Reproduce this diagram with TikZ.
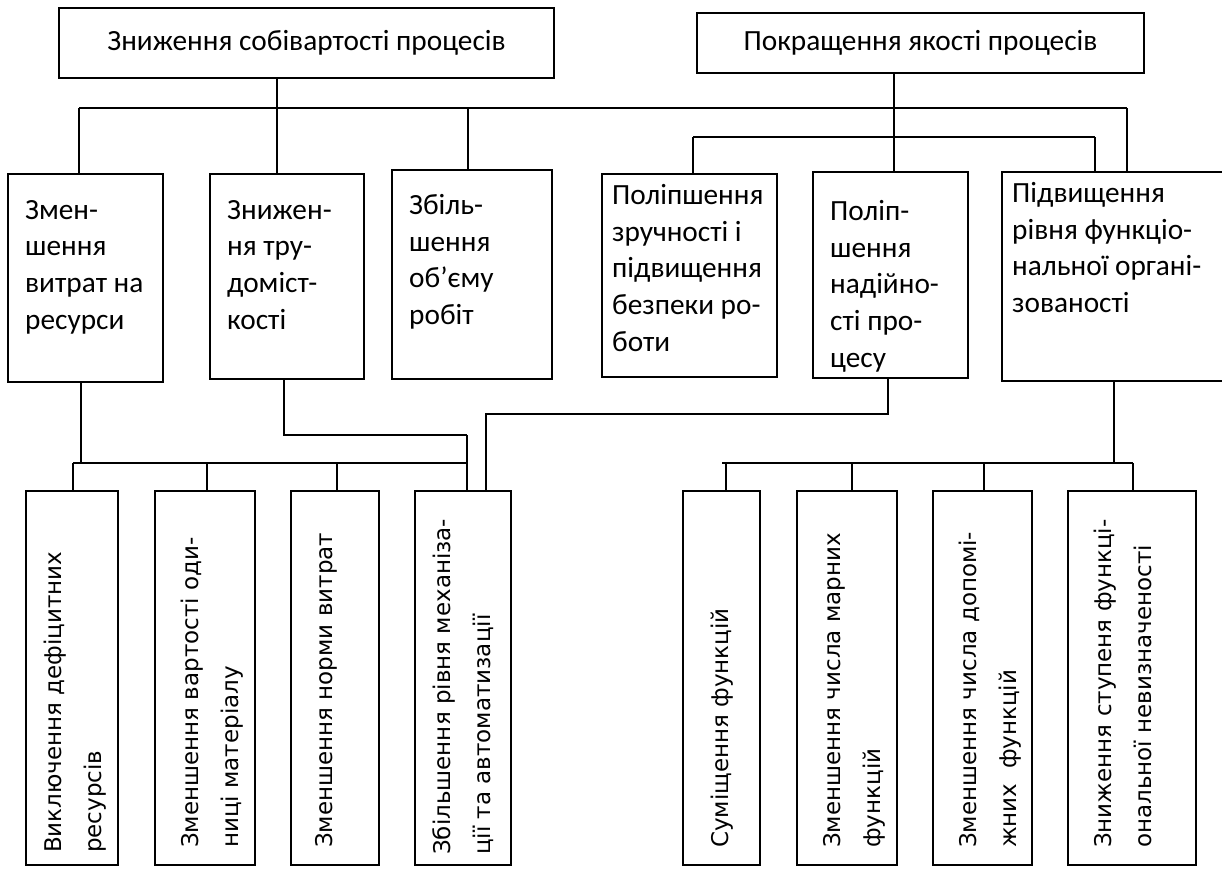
\documentclass[tikz,border=0pt]{standalone}
\usepackage{fontspec}
\setmainfont{Carlito}
\newfontfamily\rotfont{DejaVu Sans}
\begin{document}
\begin{tikzpicture}[x=1pt,y=-1pt,
  box/.style={draw, line width=1.5pt, rectangle, inner sep=0pt, outer sep=0pt, anchor=north west},
  head/.style={font=\fontsize{29.3}{35}\selectfont},
  midtext/.style={anchor=north west, inner sep=0pt, align=left, font=\fontsize{29.3}{36.7}\selectfont},
  verttext/.style={anchor=north west, inner sep=0pt, align=left, rotate=90, font=\rotfont\fontsize{23}{40}\selectfont},
  wire/.style={line width=1.5pt}]
\fill[white] (0,0) rectangle (1222,868);
\useasboundingbox (0,0) rectangle (1222,868);

% top level
\node[box, head, minimum width=495pt, minimum height=70pt] (t1) at (59,8) {Зниження собівартості процесів};
\node[box, head, minimum width=447pt, minimum height=60pt] (t2) at (697,13) {Покращення якості процесів};

% middle level
\node[box, minimum width=155pt, minimum height=208pt] (m1) at (8,174) {};
\node[box, minimum width=154pt, minimum height=205pt] (m2) at (210,174) {};
\node[box, minimum width=160pt, minimum height=209pt] (m3) at (392,170) {};
\node[box, minimum width=175pt, minimum height=203pt] (m4) at (602,174) {};
\node[box, minimum width=155pt, minimum height=206pt] (m5) at (813,172) {};
\node[box, minimum width=226pt, minimum height=209pt] (m6) at (1002,172) {};

\node[midtext] (m1t) at (25,200) {Змен-\\шення\\витрат на\\ресурси};
\node[midtext] (m2t) at (227,200) {Знижен-\\ня тру-\\доміст-\\кості};
\node[midtext] (m3t) at (409,194) {Збіль-\\шення\\об’єму\\робіт};
\node[midtext] (m4t) at (612,184) {Поліпшення\\зручності і\\підвищення\\безпеки ро-\\боти};
\node[midtext] (m5t) at (830,200) {Поліп-\\шення\\надійно-\\сті про-\\цесу};
\node[midtext] (m6t) at (1012,182) {Підвищення\\рівня функціо-\\нальної органі-\\зованості};

% bottom level
\node[box, minimum width=92pt,  minimum height=374pt] (b1) at (26,491) {};
\node[box, minimum width=100pt, minimum height=374pt] (b2) at (155,491) {};
\node[box, minimum width=88pt,  minimum height=374pt] (b3) at (291,491) {};
\node[box, minimum width=96pt,  minimum height=374pt] (b4) at (415,491) {};
\node[box, minimum width=77pt,  minimum height=374pt] (c1) at (683,491) {};
\node[box, minimum width=100pt, minimum height=374pt] (c2) at (797,491) {};
\node[box, minimum width=99pt,  minimum height=374pt] (c3) at (933,491) {};
\node[box, minimum width=128pt, minimum height=374pt] (c4) at (1068,491) {};

\node[verttext] (b1t) at (44,853) {Виключення дефіцитних\\ресурсів};
\node[verttext] (b2t) at (181,848) {Зменшення вартості оди-\\ниці матеріалу};
\node[verttext] (b3t) at (315,848) {Зменшення норми витрат};
\node[verttext] (b4t) at (432,855) {Збільшення рівня механіза-\\ції та автоматизації};
\node[verttext] (c1t) at (711,848) {Суміщення функцій};
\node[verttext] (c2t) at (823,848) {Зменшення числа марних\\функцій};
\node[verttext] (c3t) at (959,848) {Зменшення числа допомі-\\жних \ функцій};
\node[verttext] (c4t) at (1094,848) {Зниження ступеня функці-\\ональної невизначеності};

% junction points
\coordinate (a0) at (277,108);
\coordinate (a1) at (79,108);
\coordinate (a3) at (468,108);
\coordinate (a6) at (1127,108);
\coordinate (q0) at (894,137);
\coordinate (q4) at (693,137);
\coordinate (q6) at (1095,137);
\coordinate (r1) at (81,463);
\coordinate (s1) at (73,463);
\coordinate (s2) at (207,463);
\coordinate (s3) at (337,463);
\coordinate (s4) at (467,463);
\coordinate (u1) at (284,435);
\coordinate (u2) at (467,435);
\coordinate (v1) at (888,414);
\coordinate (v2) at (486,414);
\coordinate (w0) at (1114,463);
\coordinate (w5) at (722,463);
\coordinate (w1) at (726,463);
\coordinate (w2) at (852,463);
\coordinate (w3) at (984,463);
\coordinate (w4) at (1133,463);

% cost branch
\draw[wire] (t1.south -| a0) -- (a0);
\draw[wire] (a1) -- (a6);
\draw[wire] (a1) -- (a1 |- m1.north);
\draw[wire] (a0) -- (a0 |- m2.north);
\draw[wire] (a3) -- (a3 |- m3.north);
\draw[wire] (a6) -- (a6 |- m6.north);

% quality branch
\draw[wire] (t2.south -| q0) -- (q0 |- m5.north);
\draw[wire] (q4) -- (q6);
\draw[wire] (q4) -- (q4 |- m4.north);
\draw[wire] (q6) -- (q6 |- m6.north);

% resources
\draw[wire] (m1.south -| r1) -- (r1);
\draw[wire] (s1) -- (s4);
\draw[wire] (s1) -- (s1 |- b1.north);
\draw[wire] (s2) -- (s2 |- b2.north);
\draw[wire] (s3) -- (s3 |- b3.north);
\draw[wire] (u2) -- (u2 |- b4.north);
\draw[wire] (m2.south -| u1) -- (u1) -- (u2);
\draw[wire] (m5.south -| v1) -- (v1) -- (v2) -- (v2 |- b4.north);

% functional organisation
\draw[wire] (m6.south -| w0) -- (w0);
\draw[wire] (w5) -- (w4);
\draw[wire] (w1) -- (w1 |- c1.north);
\draw[wire] (w2) -- (w2 |- c2.north);
\draw[wire] (w3) -- (w3 |- c3.north);
\draw[wire] (w4) -- (w4 |- c4.north);
\end{tikzpicture}
\end{document}
